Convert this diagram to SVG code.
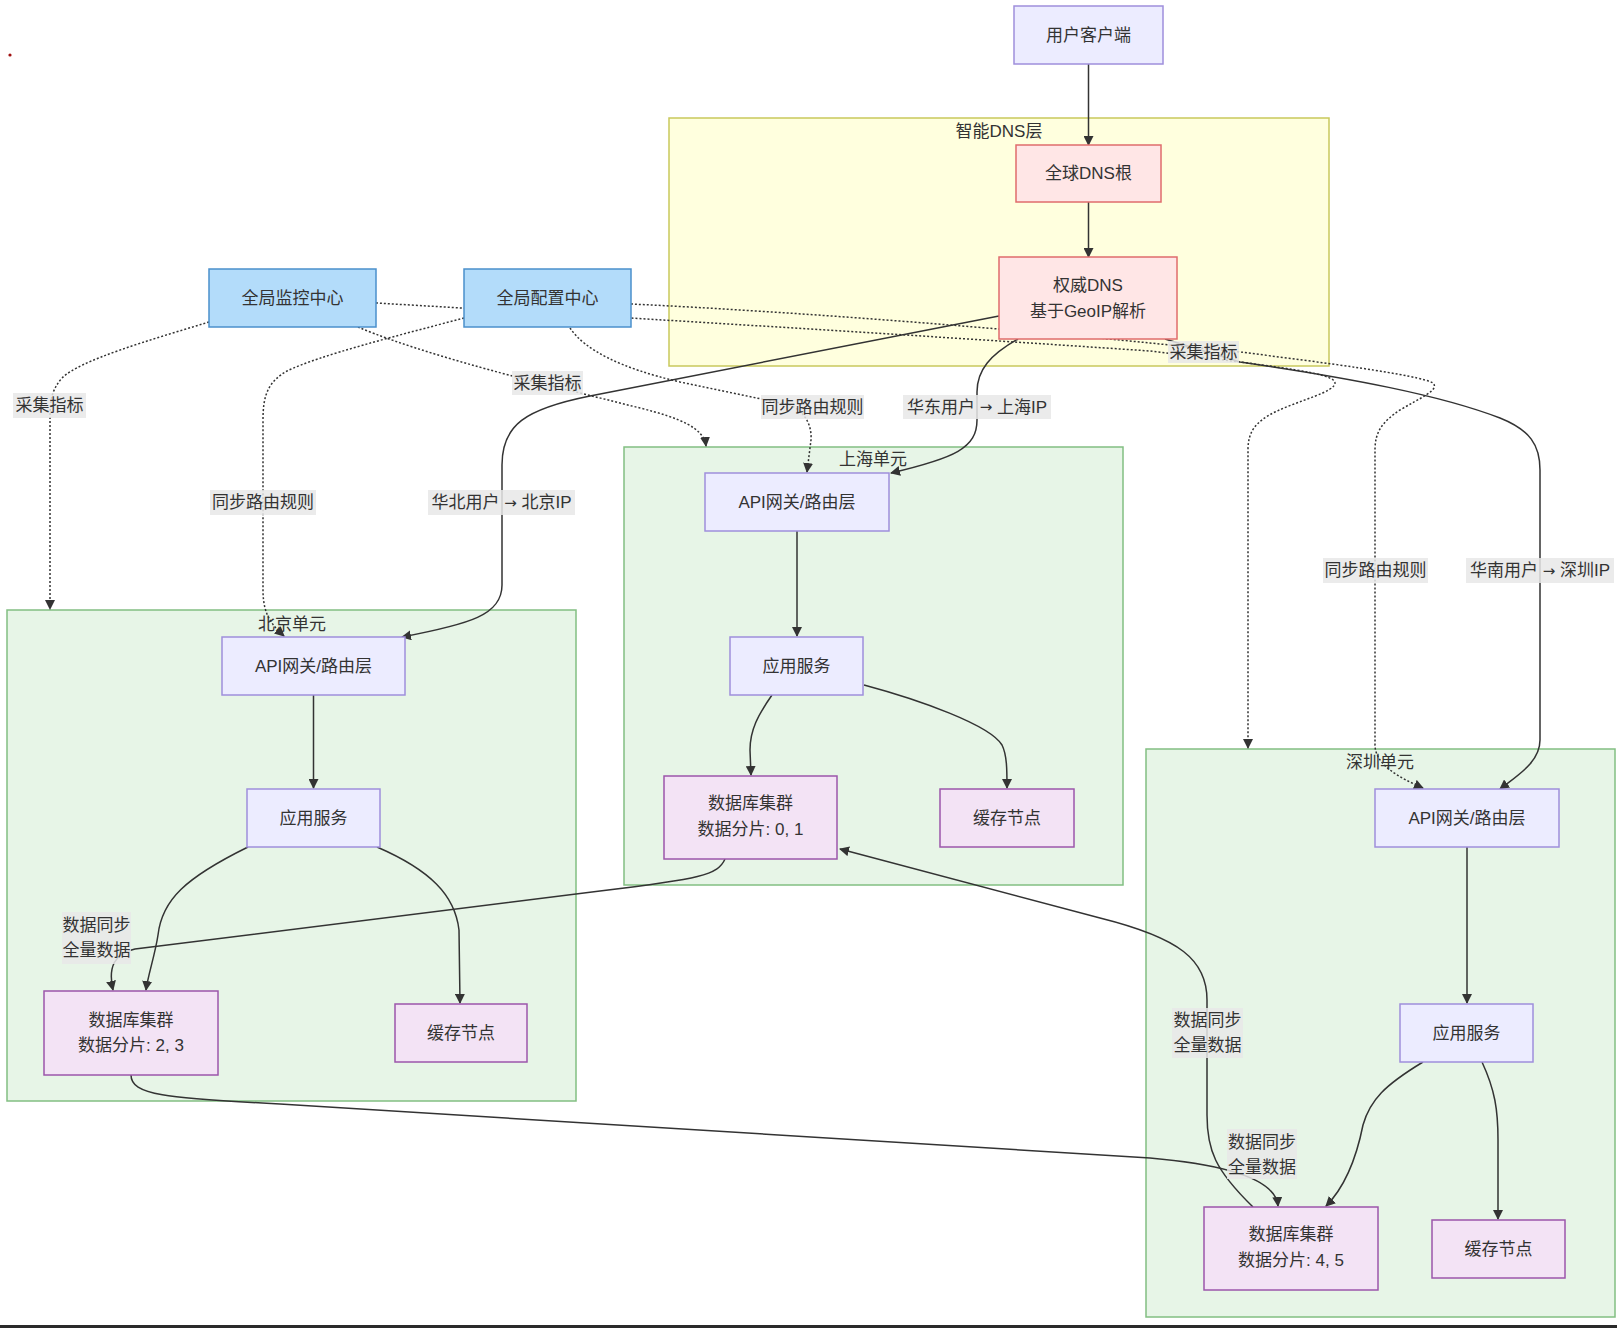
<svg xmlns="http://www.w3.org/2000/svg" width="1617" height="1328" viewBox="0 0 1617 1328">
<defs>
<marker id="arrow" viewBox="0 0 10 10" refX="9" refY="5" markerUnits="userSpaceOnUse" markerWidth="10" markerHeight="10" orient="auto">
<path d="M0,0 L10,5 L0,10 z" fill="#333"/>
</marker>
<style>
text{font-family:"Liberation Sans","Noto Sans CJK SC",sans-serif;font-size:17px;fill:#333;text-anchor:middle;dominant-baseline:central}
.ar{font-family:"DejaVu Sans",sans-serif;font-size:15px}
.def{fill:#ececff;stroke:#9f8fdc;stroke-width:1.5}
.dns{fill:#ffe6e6;stroke:#e06c6c;stroke-width:1.5}
.glob{fill:#b3dcfa;stroke:#4b90cc;stroke-width:1.5}
.store{fill:#f3e3f5;stroke:#9c56ab;stroke-width:1.5}
.region{fill:#e7f5e7;stroke:#82bf82;stroke-width:1.5}
.dnsl{fill:#ffffde;stroke:#c9c95c;stroke-width:1.5}
.e{fill:none;stroke:#333;stroke-width:1.5;marker-end:url(#arrow)}
.d{fill:none;stroke:#333;stroke-width:1.5;stroke-dasharray:2 2;marker-end:url(#arrow)}
.lb{fill:#e8e8e8;fill-opacity:0.85}
</style>
</defs>
<rect width="1617" height="1328" fill="#ffffff"/>

<g id="clusters">
<g id="cluster-dns"><rect class="dnsl" x="669" y="118" width="660" height="248"/><text x="999" y="131">智能DNS层</text></g>
<g id="cluster-sh"><rect class="region" x="624" y="447" width="499" height="438"/><text x="873" y="459">上海单元</text></g>
<g id="cluster-bj"><rect class="region" x="7" y="610" width="569" height="491"/><text x="292" y="624">北京单元</text></g>
<g id="cluster-sz"><rect class="region" x="1146" y="749" width="469" height="568"/><text x="1380" y="762">深圳单元</text></g>
</g>

<g id="connectors">
<path class="e" d="M1088.5,64 L1088.5,145"/>
<path class="e" d="M1088.5,202 L1088.5,257"/>
<path class="e" d="M999,316 L590,396 C525,409 502,425 502,465 L502,585 C502,615 470,624 402,637"/>
<path class="e" d="M1018,339 C990,355 977,370 977,392 L977,420 C977,448 955,458 891,473"/>
<path class="e" d="M1165,339 L1240,362 C1350,378 1440,395 1500,418 C1530,430 1540,445 1540,470 L1540,740 C1540,762 1518,775 1500,789"/>
<path class="d" d="M209,322 C150,340 80,360 62,378 C52,390 50,398 50,420 L50,609"/>
<path class="d" d="M464,318 C400,335 320,355 287,371 C268,382 263,395 263,420 L263,590 C263,615 272,625 284,636"/>
<path class="d" d="M358,327 C400,345 470,365 520,378 L640,408 C680,418 704,428 706,446"/>
<path class="d" d="M570,328 C585,350 620,368 680,382 L790,405 C805,412 812,425 811,440 L807,472"/>
<path class="d" d="M376,303 C600,316 900,334 1150,351 L1240,362 C1300,370 1335,375 1335,383 C1335,392 1300,400 1275,412 C1255,422 1248,432 1248,450 L1248,748"/>
<path class="d" d="M631,304 C800,312 1000,328 1150,343 L1240,352 C1320,362 1420,375 1433,383 C1440,390 1420,398 1400,410 C1382,422 1375,432 1375,450 L1375,745 C1375,765 1400,778 1423,788"/>
<path class="e" d="M725,859 C718,875 700,879 600,891 L135,949 Q105,955 113,990"/>
<path class="e" d="M131,1075 C131,1095 165,1098 280,1104 L1150,1158 C1230,1165 1276,1180 1278,1206"/>
<path class="e" d="M1253,1207 C1215,1170 1207,1150 1207,1115 L1207,1000 C1207,960 1180,938 1100,918 L840,849"/>
<path class="e" d="M313.5,695 L313.5,788"/>
<path class="e" d="M248,847 C185,878 162,900 158,935 C155,955 148,975 146,990"/>
<path class="e" d="M377,847 C430,870 455,895 459,930 L460,1003"/>
<path class="e" d="M797,531 L797,636"/>
<path class="e" d="M772,695 C758,715 750,730 750,750 L751,775"/>
<path class="e" d="M864,685 C920,700 990,725 1002,745 C1007,755 1007,770 1007,788"/>
<path class="e" d="M1467,847 L1467,1003"/>
<path class="e" d="M1423,1062 C1385,1085 1370,1100 1363,1125 C1355,1165 1342,1190 1326,1206"/>
<path class="e" d="M1482,1062 C1495,1090 1498,1110 1498,1140 L1498,1219"/>
</g>

<g id="node-client"><rect class="def" x="1014" y="6" width="149" height="58"/><text x="1088.5" y="35">用户客户端</text></g>
<g id="node-dnsroot"><rect class="dns" x="1016" y="145" width="145" height="57"/><text x="1088.5" y="173.5">全球DNS根</text></g>
<g id="node-authdns"><rect class="dns" x="999" y="257" width="178" height="82"/><text x="1088" y="285">权威DNS</text><text x="1088" y="311">基于GeoIP解析</text></g>
<g id="node-monitor"><rect class="glob" x="209" y="269" width="167" height="58"/><text x="292.5" y="298">全局监控中心</text></g>
<g id="node-config"><rect class="glob" x="464" y="269" width="167" height="58"/><text x="547.5" y="298">全局配置中心</text></g>

<g id="node-sh-api"><rect class="def" x="705" y="473" width="184" height="58"/><text x="797" y="502">API网关/路由层</text></g>
<g id="node-sh-app"><rect class="def" x="730" y="637" width="133" height="58"/><text x="796.5" y="666">应用服务</text></g>
<g id="node-sh-db"><rect class="store" x="664" y="776" width="173" height="83"/><text x="750.5" y="803">数据库集群</text><text x="750.5" y="829">数据分片: 0, 1</text></g>
<g id="node-sh-cache"><rect class="store" x="940" y="789" width="134" height="58"/><text x="1007" y="818">缓存节点</text></g>

<g id="node-bj-api"><rect class="def" x="222" y="637" width="183" height="58"/><text x="313.5" y="666">API网关/路由层</text></g>
<g id="node-bj-app"><rect class="def" x="247" y="789" width="133" height="58"/><text x="313.5" y="818">应用服务</text></g>
<g id="node-bj-db"><rect class="store" x="44" y="991" width="174" height="84"/><text x="131" y="1020">数据库集群</text><text x="131" y="1045">数据分片: 2, 3</text></g>
<g id="node-bj-cache"><rect class="store" x="395" y="1004" width="132" height="58"/><text x="461" y="1033">缓存节点</text></g>

<g id="node-sz-api"><rect class="def" x="1375" y="789" width="184" height="58"/><text x="1467" y="818">API网关/路由层</text></g>
<g id="node-sz-app"><rect class="def" x="1400" y="1004" width="133" height="58"/><text x="1466.5" y="1033">应用服务</text></g>
<g id="node-sz-db"><rect class="store" x="1204" y="1207" width="174" height="83"/><text x="1291" y="1234">数据库集群</text><text x="1291" y="1260">数据分片: 4, 5</text></g>
<g id="node-sz-cache"><rect class="store" x="1432" y="1220" width="133" height="58"/><text x="1498.5" y="1249">缓存节点</text></g>

<g id="edge-labels">
<rect class="lb" x="13" y="393" width="73" height="25"/><text x="49.5" y="405.5">采集指标</text>
<rect class="lb" x="210" y="490" width="106" height="25"/><text x="263" y="502.5">同步路由规则</text>
<rect class="lb" x="428" y="490" width="147" height="25"/><text x="501.5" y="502.5">华北用户 <tspan class="ar">→</tspan> 北京IP</text>
<rect class="lb" x="512" y="371" width="71" height="24"/><text x="547.5" y="383">采集指标</text>
<rect class="lb" x="761" y="395" width="103" height="24"/><text x="812.5" y="407">同步路由规则</text>
<rect class="lb" x="903" y="395" width="148" height="24"/><text x="977" y="407">华东用户 <tspan class="ar">→</tspan> 上海IP</text>
<rect class="lb" x="1168" y="341" width="71" height="22"/><text x="1203.5" y="352">采集指标</text>
<rect class="lb" x="1323" y="558" width="105" height="25"/><text x="1375.5" y="570.5">同步路由规则</text>
<rect class="lb" x="1466" y="558" width="148" height="25"/><text x="1540" y="570.5">华南用户 <tspan class="ar">→</tspan> 深圳IP</text>
<rect class="lb" x="62" y="912" width="69" height="52"/><text x="96.5" y="925">数据同步</text><text x="96.5" y="950">全量数据</text>
<rect class="lb" x="1172" y="1008" width="71" height="50"/><text x="1207.5" y="1020">数据同步</text><text x="1207.5" y="1045">全量数据</text>
<rect class="lb" x="1227" y="1129" width="70" height="50"/><text x="1262" y="1142">数据同步</text><text x="1262" y="1167">全量数据</text>
</g>

<circle cx="10" cy="55" r="1.6" fill="#a01010"/>
<rect x="0" y="1325" width="1617" height="3" fill="#2a2a2a"/>
</svg>
